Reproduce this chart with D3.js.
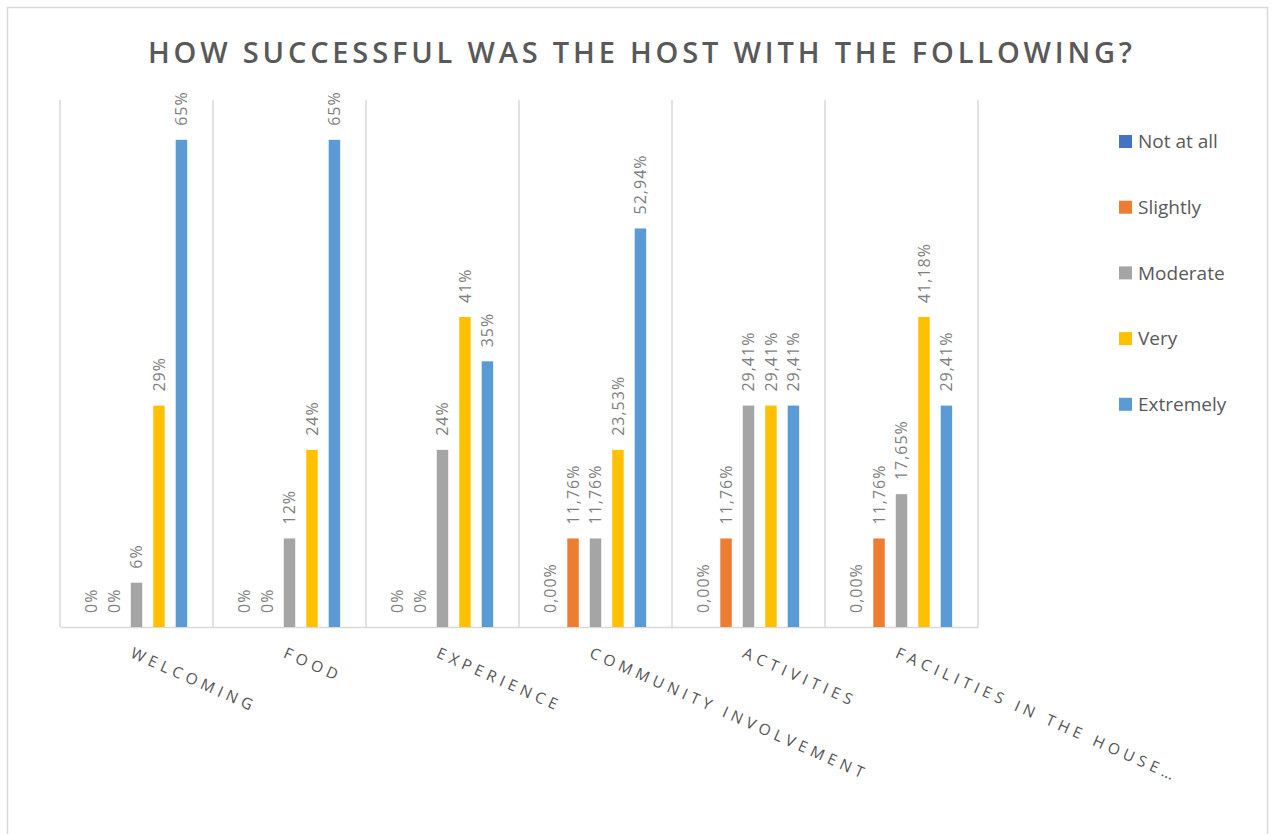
<!DOCTYPE html>
<html>
<head>
<meta charset="utf-8">
<script src="https://cdn.jsdelivr.net/npm/d3@7"></script>
<style>
  body { margin: 0; background: #fff; }
  svg { display: block; font-family: "Open Sans", sans-serif; }
</style>
</head>
<body>
<div class="holder"></div>
<script>
// categories along the x axis
const categories = ["WELCOMING", "FOOD", "EXPERIENCE", "COMMUNITY INVOLVEMENT", "ACTIVITIES", "FACILITIES IN THE HOUSE…"];
// answer series (legend order)
const series = ["Not at all", "Slightly", "Moderate", "Very", "Extremely"];
const colors = ["#4472c4", "#ed7d31", "#a5a5a5", "#ffc000", "#5b9bd5"];

// values in %, one array per series, in category order
const notAtAll  = [0, 0, 0, 0, 0, 0];
const slightly  = [0, 0, 0, 11.76, 11.76, 11.76];
const moderate  = [5.88, 11.76, 23.53, 11.76, 29.41, 17.65];
const very      = [29.41, 23.53, 41.18, 23.53, 29.41, 41.18];
const extremely = [64.71, 64.71, 35.29, 52.94, 29.41, 29.41];

// data labels as printed on the chart
const labelsNotAtAll  = ["0%", "0%", "0%", "0,00%", "0,00%", "0,00%"];
const labelsSlightly  = ["0%", "0%", "0%", "11,76%", "11,76%", "11,76%"];
const labelsModerate  = ["6%", "12%", "24%", "11,76%", "29,41%", "17,65%"];
const labelsVery      = ["29%", "24%", "41%", "23,53%", "29,41%", "41,18%"];
const labelsExtremely = ["65%", "65%", "35%", "52,94%", "29,41%", "29,41%"];

const values = [notAtAll, slightly, moderate, very, extremely];
const labels = [labelsNotAtAll, labelsSlightly, labelsModerate, labelsVery, labelsExtremely];

const W = 1275, H = 834;
const margin = { top: 100, left: 60, right: 297, bottom: 207 };
const baseY = H - margin.bottom;

const svg = d3.select(".holder").append("svg")
  .attr("width", W)
  .attr("height", H);

// outer chart border
svg.append("rect")
  .attr("x", 7.5).attr("y", 7.5)
  .attr("width", W - 15).attr("height", H)
  .attr("fill", "none")
  .attr("stroke", "#d9d9d9")
  .attr("stroke-width", 1.5);

// title
svg.append("text")
  .attr("x", 148)
  .attr("y", 63)
  .attr("textLength", 984)
  .attr("lengthAdjust", "spacing")
  .attr("font-size", 29)
  .attr("font-weight", 600)
  .attr("fill", "#595959")
  .text("HOW SUCCESSFUL WAS THE HOST WITH THE FOLLOWING?");

const x0 = d3.scaleBand()
  .domain(categories)
  .range([margin.left, W - margin.right]);

const x1 = d3.scaleBand()
  .domain(series)
  .range([0, x0.bandwidth()])
  .paddingInner(0.49)
  .paddingOuter(1.15);

const y = d3.scaleLinear()
  .domain([0, 70])
  .range([baseY, margin.top]);

// vertical separators between categories
const bounds = categories.map(c => x0(c)).concat([x0.range()[1]]);
svg.append("g").selectAll("line")
  .data(bounds)
  .join("line")
  .attr("x1", d => d).attr("x2", d => d)
  .attr("y1", margin.top).attr("y2", baseY)
  .attr("stroke", "#d9d9d9")
  .attr("stroke-width", 1.5);

// x axis (baseline + rotated labels)
const xAxis = svg.append("g")
  .attr("transform", `translate(0,${baseY})`)
  .call(d3.axisBottom(x0).tickSize(0).tickFormat(""));
xAxis.select(".domain").attr("stroke", "#d9d9d9").attr("stroke-width", 1.5);

svg.append("g").selectAll("text")
  .data(categories)
  .join("text")
  .attr("transform", d => `translate(${x0(d) + x0.bandwidth() / 2 - 7},${baseY + 30}) rotate(24)`)
  .attr("font-size", 15.5)
  .attr("letter-spacing", 4.7)
  .attr("fill", "#545454")
  .text(d => d);

// bars
const groups = svg.append("g").selectAll("g")
  .data(series)
  .join("g")
  .attr("fill", (d, i) => colors[i]);

const rows = (s, si) => categories.map((c, ci) => ({ s, c, v: values[si][ci], label: labels[si][ci] }));

groups.selectAll("rect")
  .data(rows)
  .join("rect")
  .attr("x", d => x0(d.c) + x1(d.s))
  .attr("width", x1.bandwidth())
  .attr("y", d => y(d.v))
  .attr("height", d => baseY - y(d.v));

// data labels
groups.selectAll("text")
  .data(rows)
  .join("text")
  .attr("transform", d => `translate(${x0(d.c) + x1(d.s) + x1.bandwidth() / 2},${y(d.v) - 14}) rotate(-90)`)
  .attr("dy", "0.35em")
  .attr("font-size", 16)
  .attr("letter-spacing", 1)
  .attr("fill", "#7f7f7f")
  .text(d => d.label);

// legend
const legend = svg.append("g").selectAll("g")
  .data(series)
  .join("g")
  .attr("transform", (d, i) => `translate(1119,${141.5 + i * 65.7})`);

legend.append("rect")
  .attr("x", 0).attr("y", -6.5)
  .attr("width", 13).attr("height", 13)
  .attr("fill", (d, i) => colors[i]);

legend.append("text")
  .attr("x", 19)
  .attr("dy", "0.35em")
  .attr("font-size", 19)
  .attr("fill", "#595959")
  .text(d => d);
</script>
</body>
</html>
